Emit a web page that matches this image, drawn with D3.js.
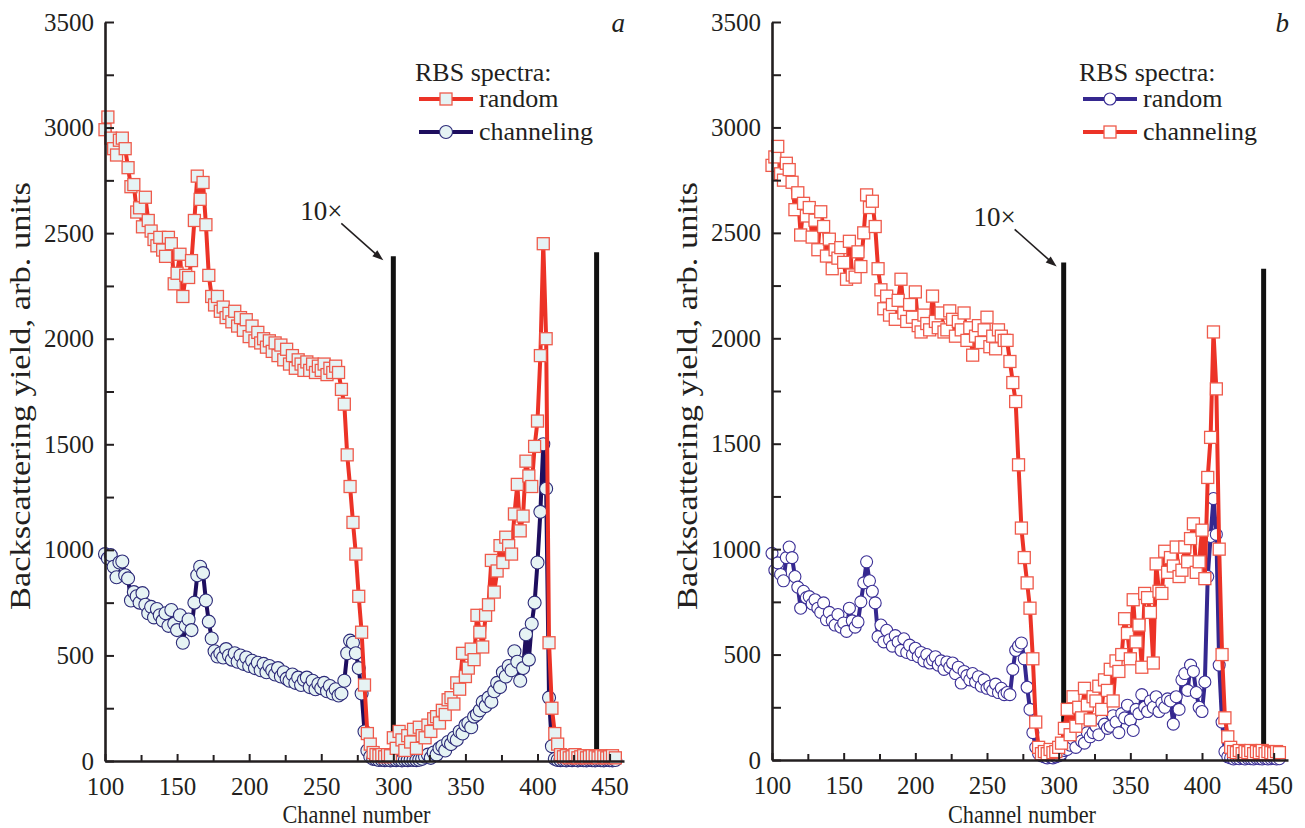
<!DOCTYPE html>
<html>
<head>
<meta charset="utf-8">
<script src="https://cdn.jsdelivr.net/npm/d3@7"></script>
<style>
body { margin: 0; background: #fff; }
text { font-family: "Liberation Serif", "Times New Roman", serif; fill: #231f20; }
</style>
</head>
<body>
<svg id="chart" width="1305" height="828"></svg>
<script>

////////////// DATA (channel number -> backscattering yield)

var channels = d3.range(100, 456, 2);

// panel a
var aRandom = [
    2990, 3050, 2950, 2900, 2870, 2940, 2950, 2900, 2810, 2720,
    2730, 2600, 2620, 2530, 2670, 2560, 2510, 2470, 2440, 2480,
    2420, 2390, 2480, 2450, 2260, 2310, 2400, 2200, 2300, 2290,
    2370, 2560, 2770, 2660, 2740, 2540, 2300, 2200, 2160, 2200,
    2130, 2150, 2100, 2120, 2080, 2130, 2060, 2100, 2040, 2090,
    2010, 2060, 1990, 2030, 1980, 2000, 1960, 1990, 1940, 1980,
    1920, 1970, 1900, 1950, 1880, 1920, 1860, 1900, 1880, 1850,
    1890, 1850, 1880, 1840, 1870, 1850, 1880, 1830, 1860, 1840,
    1870, 1840, 1760, 1690, 1450, 1300, 1130, 980, 780, 610,
    360, 130, 80, 40, 30, 25, 30, 20, 30, 25,
    110, 60, 140, 100, 50, 120, 90, 150, 60, 160,
    120, 110, 170, 140, 200, 210, 180, 240, 220, 290,
    300, 270, 370, 340, 510, 400, 440, 530, 480, 690,
    610, 540, 690, 740, 950, 800, 900, 1020, 940, 1060,
    1020, 980, 1170, 1310, 1090, 1160, 1420, 1350, 1300, 1490,
    1610, 1920, 2450, 2000, 560, 250, 130, 80, 30, 20,
    25, 15, 20, 30, 15, 20, 25, 15, 20, 25,
    20, 15, 25, 20, 15, 20, 25, 15
];

var aChannel = [
    980, 960, 975, 920, 870, 940, 945, 880, 865, 760,
    800, 780, 750, 795, 740, 700, 730, 680, 720, 690,
    665, 700, 640, 715, 650, 620, 690, 560, 640, 670,
    620, 750, 880, 920, 890, 760, 660, 580, 520, 495,
    510, 490, 530, 500, 480, 510, 470, 500, 460, 490,
    450, 475, 440, 465, 430, 460, 420, 450, 430, 410,
    440, 400, 420, 390, 380, 410, 370, 395, 360, 385,
    395, 350, 380, 340, 365, 345, 370, 330, 355, 320,
    340, 310, 320, 380, 510, 570, 560, 510, 440, 320,
    140, 50, 20, 10, 8, 5, 6, 4, 5, 3,
    5, 4, 6, 3, 5, 4, 6, 5, 4, 6,
    10, 20, 30, 15, 40, 30, 60, 70, 50, 90,
    80, 110, 100, 140, 130, 170, 180, 160, 210, 220,
    240, 280, 260, 300, 280, 330, 370, 350, 420, 400,
    450, 430, 520, 470, 380, 440, 600, 480, 650, 750,
    940, 1180, 1500, 1290, 300, 70, 10, 5, 4, 5,
    3, 5, 4, 6, 3, 5, 4, 3, 5, 4,
    3, 5, 4, 3, 5, 4, 3, 5
];

// panel b
var bRandom = [
    980, 900, 935, 880, 850, 960, 1010, 960, 870, 820,
    720, 800, 770, 775, 740, 760, 720, 700, 745, 665,
    700, 660, 640, 690, 630, 650, 610, 720, 660, 630,
    655, 750, 840, 940, 850, 800, 745, 585, 640, 560,
    615, 570, 540, 590, 560, 520, 575, 510, 545, 500,
    530, 490, 510, 470, 500, 460, 475, 490, 450, 470,
    430, 465, 440, 460, 410, 440, 365, 420, 400, 380,
    410, 370, 395, 350, 380, 340, 350, 330, 360, 320,
    340, 310, 320, 310, 430, 520, 540, 555, 480, 345,
    240, 130, 60, 30, 20, 15, 10, 15, 10, 15,
    20, 30, 45, 50, 70, 100, 60, 110, 90, 80,
    130, 110, 130, 160, 120, 190, 170, 150, 160, 210,
    180, 130, 220, 200, 260, 190, 140, 240, 220, 310,
    250, 230, 280, 250, 300, 230, 270, 250, 290, 280,
    170, 300, 240, 380, 410, 330, 450, 420, 320, 250,
    230, 370, 870, 1060, 1240, 1070, 450, 180, 40, 15,
    10, 5, 8, 6, 10, 5, 8, 6, 5, 8,
    6, 5, 8, 5, 6, 8, 5, 6
];

var bChannel = [
    2820, 2860, 2910, 2780, 2750, 2830, 2800, 2740, 2610, 2690,
    2490, 2640, 2580, 2620, 2480, 2560, 2420, 2600, 2530, 2390,
    2470, 2330, 2420, 2380, 2430, 2360, 2280, 2460, 2300, 2290,
    2410, 2340, 2500, 2680, 2620, 2650, 2530, 2330, 2230, 2140,
    2200, 2110, 2160, 2090, 2180, 2280, 2120, 2080, 2160, 2100,
    2220, 2060, 2030, 2110, 2070, 2040, 2200, 2080, 2050, 2120,
    2030, 2040, 2130, 2090, 2010, 2080, 2040, 2120, 1990, 2050,
    1920, 2010, 2060, 1980, 2040, 2100, 1960, 2010, 1950, 2040,
    2010, 1990, 1990, 1890, 1790, 1700, 1400, 1100, 960, 840,
    720, 480, 180, 60, 30, 40, 30, 50, 35, 40,
    60, 80, 150, 240, 120, 300, 160, 250, 200, 340,
    260, 190, 300, 280, 350, 240, 380, 330, 430, 280,
    470, 420, 500, 670, 600, 480, 760, 560, 640, 440,
    790, 770, 700, 460, 930, 800, 790, 990, 890, 960,
    920, 1010, 870, 900, 1010, 940, 1050, 1120, 890, 940,
    1090, 860, 1340, 1530, 2030, 1760, 1000, 500, 200, 110,
    60, 40, 35, 45, 30, 40, 35, 45, 30, 40,
    35, 45, 30, 40, 35, 30, 40, 35
];

// the "10x" window borders: channel and height of the black bars
var aBars = [300, 441], aBarTops = [2390, 2410];
var bBars = [303.5, 443], bBarTops = [2360, 2330];

var xTicks = [100, 150, 200, 250, 300, 350, 400, 450];
var yTicks = [0, 500, 1000, 1500, 2000, 2500, 3000, 3500];

var legendTitle = "RBS spectra:";

////////////// SETUP

var svg = d3.select("#chart");
var font = "'Liberation Serif', 'Times New Roman', serif";
var axisColor = "#231f20";

var red = "#ec3327", redEdge = "#ef5a4b";
var navy = "#1e0e5e", navyEdge = "#2c2a78";
var indigo = "#35288f", indigoEdge = "#3b2f96";
var pale = "#e6f3f4";


var drawSeries = function (g, x, y, values, st) {
    var pts = channels.map(function (c, i) { return { c: c, v: values[i] }; });

    g.append("path")
        .datum(pts)
        .attr("d", d3.line().x(function (d) { return x(d.c); }).y(function (d) { return y(d.v); }))
        .style("fill", "none")
        .style("stroke", st.line)
        .style("stroke-width", 4)
        .style("stroke-linejoin", "round")

    if (st.shape === "square") {
        g.selectAll(null).data(pts).enter().append("rect")
            .attr("x", function (d) { return x(d.c) - st.size / 2; })
            .attr("y", function (d) { return y(d.v) - st.size / 2; })
            .attr("width", st.size)
            .attr("height", st.size)
            .style("fill", st.fill)
            .style("stroke", st.edge)
            .style("stroke-width", 1.3)
    }
    else {
        g.selectAll(null).data(pts).enter().append("circle")
            .attr("cx", function (d) { return x(d.c); })
            .attr("cy", function (d) { return y(d.v); })
            .attr("r", st.size / 2)
            .style("fill", st.fill)
            .style("stroke", st.edge)
            .style("stroke-width", 1.1)
    }
}


var legendItem = function (g, lx, ly, label, st) {
    g.append("line")
        .attr("x1", lx).attr("x2", lx + 54)
        .attr("y1", ly).attr("y2", ly)
        .style("stroke", st.line)
        .style("stroke-width", 4)

    if (st.shape === "square") {
        g.append("rect")
            .attr("x", lx + 27 - st.size / 2).attr("y", ly - st.size / 2)
            .attr("width", st.size).attr("height", st.size)
            .style("fill", st.fill).style("stroke", st.edge).style("stroke-width", 1.3)
    }
    else {
        g.append("circle")
            .attr("cx", lx + 27).attr("cy", ly).attr("r", st.size / 2)
            .style("fill", st.fill).style("stroke", st.edge).style("stroke-width", 1.1)
    }

    g.append("text")
        .attr("x", lx + 60)
        .attr("y", ly + 8)
        .style("font-size", "26px")
        .text(label)
}


var makePanel = function (p) {
    var x = d3.scaleLinear().domain([100, 460]).range([p.left, p.right]);
    var y = d3.scaleLinear().domain([0, 3500]).range([p.bottom, p.top]);
    var g = svg.append("g");

    // black bars marking the 10x window
    p.bars.forEach(function (b, i) {
        g.append("line")
            .attr("x1", x(b)).attr("x2", x(b))
            .attr("y1", y(0)).attr("y2", y(p.barTops[i]))
            .style("stroke", "#111")
            .style("stroke-width", 5)
    });

    // series
    p.series.forEach(function (s) { drawSeries(g, x, y, s.values, s.style); });

    // minor ticks
    g.append("g")
        .attr("transform", "translate(0," + p.bottom + ")")
        .call(d3.axisBottom(x).tickValues(d3.range(125, 460, 50)).tickSize(-6).tickSizeOuter(0).tickFormat(""))
        .call(function (a) { a.select(".domain").remove(); })
    g.append("g")
        .attr("transform", "translate(" + p.left + ",0)")
        .call(d3.axisLeft(y).tickValues(d3.range(250, 3500, 500)).tickSize(-9).tickSizeOuter(0).tickFormat(""))
        .call(function (a) { a.select(".domain").remove(); })

    // main axes
    var xa = g.append("g")
        .attr("transform", "translate(0," + p.bottom + ")")
        .call(d3.axisBottom(x).tickValues(xTicks).tickSize(-7).tickSizeOuter(0).tickPadding(16).tickFormat(d3.format("d")))
    var ya = g.append("g")
        .attr("transform", "translate(" + p.left + ",0)")
        .call(d3.axisLeft(y).tickValues(yTicks).tickSize(-9).tickSizeOuter(0).tickPadding(11).tickFormat(d3.format("d")))

    svg.selectAll(".tick line").style("stroke", axisColor).style("stroke-width", 2)
    ;[xa, ya].forEach(function (a) {
        a.attr("font-family", font).attr("font-size", 25)
        a.select(".domain").style("stroke", axisColor).style("stroke-width", 2.6)
        a.selectAll(".tick text").style("fill", axisColor)
    });
    xa.selectAll(".tick text").attr("dy", "0.71em")

    // axis titles
    g.append("text")
        .attr("x", (p.left + p.right) / 2 - 8)
        .attr("y", 823)
        .style("text-anchor", "middle")
        .style("font-size", "25px")
        .attr("textLength", 148)
        .attr("lengthAdjust", "spacingAndGlyphs")
        .text("Channel number")

    g.append("text")
        .attr("transform", "translate(" + (p.left - 75) + "," + 396 + ") rotate(-90)")
        .style("text-anchor", "middle")
        .style("font-size", "30px")
        .attr("textLength", 428)
        .attr("lengthAdjust", "spacingAndGlyphs")
        .text("Backscattering yield, arb. units")

    // panel letter
    g.append("text")
        .attr("x", p.right + 1)
        .attr("y", 32)
        .style("font-size", "27px")
        .style("font-style", "italic")
        .style("text-anchor", "end")
        .text(p.letter)

    // 10x annotation pointing at the first bar
    var ax = x(p.bars[0]) - p.arrowGap, ay = y(p.barTops[0]) + 4;
    g.append("line")
        .attr("x1", ax - 42).attr("y1", ay - 37)
        .attr("x2", ax - 6).attr("y2", ay - 5)
        .style("stroke", "#231f20")
        .style("stroke-width", 1.6)
    g.append("path")
        .attr("d", "M" + ax + "," + ay + " l-11,-4 l5,-6 z")
        .style("fill", "#231f20")
    g.append("text")
        .attr("x", ax - 62)
        .attr("y", ay - 40)
        .style("text-anchor", "middle")
        .style("font-size", "27px")
        .text("10\u00d7")

    // legend
    var lg = g.append("g");
    lg.append("text")
        .attr("x", p.legendX - 4)
        .attr("y", 81)
        .style("font-size", "26px")
        .text(legendTitle)
    p.series.slice().sort(function (a, b) { return a.order - b.order; }).forEach(function (s, i) {
        legendItem(lg, p.legendX, 99 + i * 33, s.name, s.style);
    });
}


////////////// PANELS

makePanel({
    left: 105, right: 624, top: 22, bottom: 761,
    letter: "a", legendX: 419, arrowGap: 10,
    bars: aBars, barTops: aBarTops,
    series: [
        { name: "channeling", order: 1, values: aChannel,
          style: { shape: "circle", size: 13, line: navy, edge: navyEdge, fill: pale } },
        { name: "random", order: 0, values: aRandom,
          style: { shape: "square", size: 12, line: red, edge: redEdge, fill: pale } }
    ]
});

makePanel({
    left: 772, right: 1288, top: 22, bottom: 760,
    letter: "b", legendX: 1083, arrowGap: 7,
    bars: bBars, barTops: bBarTops,
    series: [
        { name: "random", order: 0, values: bRandom,
          style: { shape: "circle", size: 12, line: indigo, edge: indigoEdge, fill: "#fff" } },
        { name: "channeling", order: 1, values: bChannel,
          style: { shape: "square", size: 12, line: red, edge: redEdge, fill: "#fff" } }
    ]
});

</script>
</body>
</html>
